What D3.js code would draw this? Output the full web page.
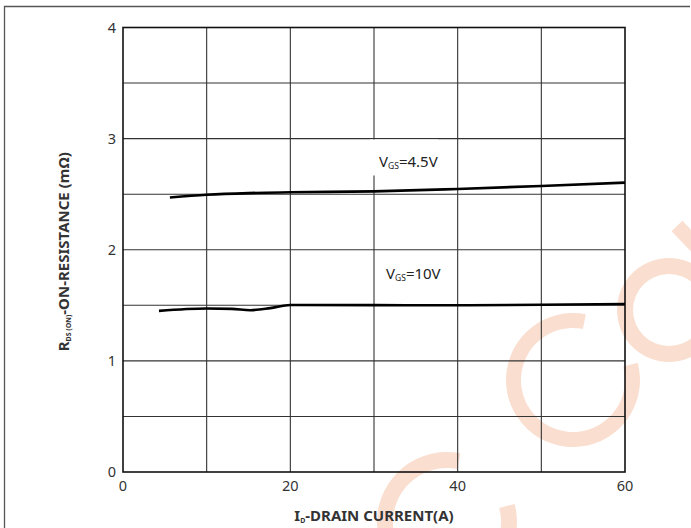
<!DOCTYPE html>
<html>
<head>
<meta charset="utf-8">
<script src="https://cdn.jsdelivr.net/npm/d3@7"></script>
<style>
  body { margin: 0; background: #fff; }
  svg { display: block; font-family: "Noto Sans", sans-serif; }
</style>
</head>
<body>
<div id="chart"></div>
<script>
// Datos
const current45 = [5.6, 10, 15, 20, 30, 40, 50, 60];
const rdson45 = [2.47, 2.495, 2.51, 2.517, 2.525, 2.547, 2.574, 2.604];
const current10 = [4.3, 10, 13, 15.2, 17.6, 20, 30, 40, 50, 60];
const rdson10 = [1.45, 1.471, 1.468, 1.456, 1.475, 1.503, 1.502, 1.5, 1.505, 1.512];
const xTicks = [0, 20, 40, 60];
const yTicks = [0, 1, 2, 3, 4];
const xGrid = [10, 20, 30, 40, 50];
const yGrid = [0.5, 1, 1.5, 2, 2.5, 3, 3.5];

const W = 691, H = 528;
const margin = { top: 27.5, right: 66, bottom: 56, left: 123 };
const width = W - margin.left - margin.right;
const height = H - margin.top - margin.bottom;

const svg = d3.select('#chart').append('svg')
    .attr('width', W).attr('height', H);

// Marco exterior
svg.append('path')
    .attr('d', `M4.5,${H} V6.5 H690`)
    .attr('fill', 'none').attr('stroke', '#555').attr('stroke-width', 1.3);

// Marca de agua
const wmColor = '#fadfd1';
const wm = svg.append('g').attr('fill', wmColor).attr('stroke', 'none');
const ring = d3.arc();
wm.append('path')
    .attr('transform', 'translate(447,522)')
    .attr('d', ring({ innerRadius: 54, outerRadius: 70, startAngle: 75 * Math.PI / 180, endAngle: 371 * Math.PI / 180 }));
wm.append('path')
    .attr('transform', 'translate(573,380)')
    .attr('d', ring({ innerRadius: 52, outerRadius: 67, startAngle: 75 * Math.PI / 180, endAngle: 371 * Math.PI / 180 }));
wm.append('path')
    .attr('transform', 'translate(669,310)')
    .attr('d', ring({ innerRadius: 36, outerRadius: 52, startAngle: 0, endAngle: 2 * Math.PI }));
wm.append('line')
    .attr('x1', 677).attr('y1', 226).attr('x2', 700).attr('y2', 250)
    .attr('stroke', wmColor).attr('stroke-width', 15);

const g = svg.append('g')
    .attr('transform', `translate(${margin.left},${margin.top})`);

const x = d3.scaleLinear().domain([0, 60]).range([0, width]);
const y = d3.scaleLinear().domain([0, 4]).range([height, 0]);

// Rejilla
g.selectAll('.vgrid').data(xGrid).join('line')
    .attr('x1', d => x(d)).attr('x2', d => x(d))
    .attr('y1', 0).attr('y2', height)
    .attr('stroke', '#333').attr('stroke-width', 1.1);
g.selectAll('.hgrid').data(yGrid).join('line')
    .attr('x1', 0).attr('x2', width)
    .attr('y1', d => y(d)).attr('y2', d => y(d))
    .attr('stroke', '#333').attr('stroke-width', 1.1);

// Fondo blanco de la etiqueta 4.5V
g.append('rect')
    .attr('x', 247).attr('y', 112).attr('width', 68).attr('height', 36)
    .attr('fill', '#fff');

g.append('rect')
    .attr('width', width).attr('height', height)
    .attr('fill', 'none').attr('stroke', '#111').attr('stroke-width', 1.6);

// Ticks
g.selectAll('.ytl').data(yTicks).join('text')
    .attr('x', -7).attr('y', d => y(d)).attr('dy', '0.35em')
    .attr('text-anchor', 'end').attr('font-size', '14.5px').attr('fill', '#333')
    .text(d => d);
g.selectAll('.xtl').data(xTicks).join('text')
    .attr('x', d => x(d)).attr('y', height + 19)
    .attr('text-anchor', 'middle').attr('font-size', '14.5px').attr('fill', '#333')
    .text(d => d);

// Curvas
const line = d3.line()
    .x(d => x(d[0]))
    .y(d => y(d[1]))
    .curve(d3.curveMonotoneX);

g.append('path')
    .datum(d3.zip(current45, rdson45))
    .attr('fill', 'none').attr('stroke', '#000').attr('stroke-width', 2.6)
    .attr('d', line);
g.append('path')
    .datum(d3.zip(current10, rdson10))
    .attr('fill', 'none').attr('stroke', '#000').attr('stroke-width', 2.6)
    .attr('d', line);

// Etiquetas de curvas
function vgsLabel(px, py, val) {
    const t = g.append('text')
        .attr('x', px).attr('y', py)
        .attr('font-size', '15px').attr('fill', '#222');
    t.append('tspan').text('V');
    t.append('tspan').attr('font-size', '8.5px').attr('dy', 2).text('GS');
    t.append('tspan').attr('dy', -2).text('=' + val);
}
vgsLabel(256, 139, '4.5V');
vgsLabel(263, 251, '10V');

// Título eje X
const xt = svg.append('text')
    .attr('x', margin.left + width / 2).attr('y', 521)
    .attr('text-anchor', 'middle').attr('font-size', '15px')
    .attr('font-weight', 'bold').attr('fill', '#333');
xt.append('tspan').text('I');
xt.append('tspan').attr('font-size', '7px').attr('dy', 2).text('D');
xt.append('tspan').attr('dy', -2).text('-DRAIN CURRENT(A)');

// Título eje Y
const yt = svg.append('text')
    .attr('transform', `translate(69,${margin.top + height / 2 + 2}) rotate(-90)`)
    .attr('text-anchor', 'middle').attr('font-size', '15px')
    .attr('font-weight', 'bold').attr('fill', '#333');
yt.append('tspan').text('R');
yt.append('tspan').attr('font-size', '7px').attr('dy', 2).text('DS (ON)');
yt.append('tspan').attr('dy', -2).text('-ON-RESISTANCE (mΩ)');
</script>
</body>
</html>
